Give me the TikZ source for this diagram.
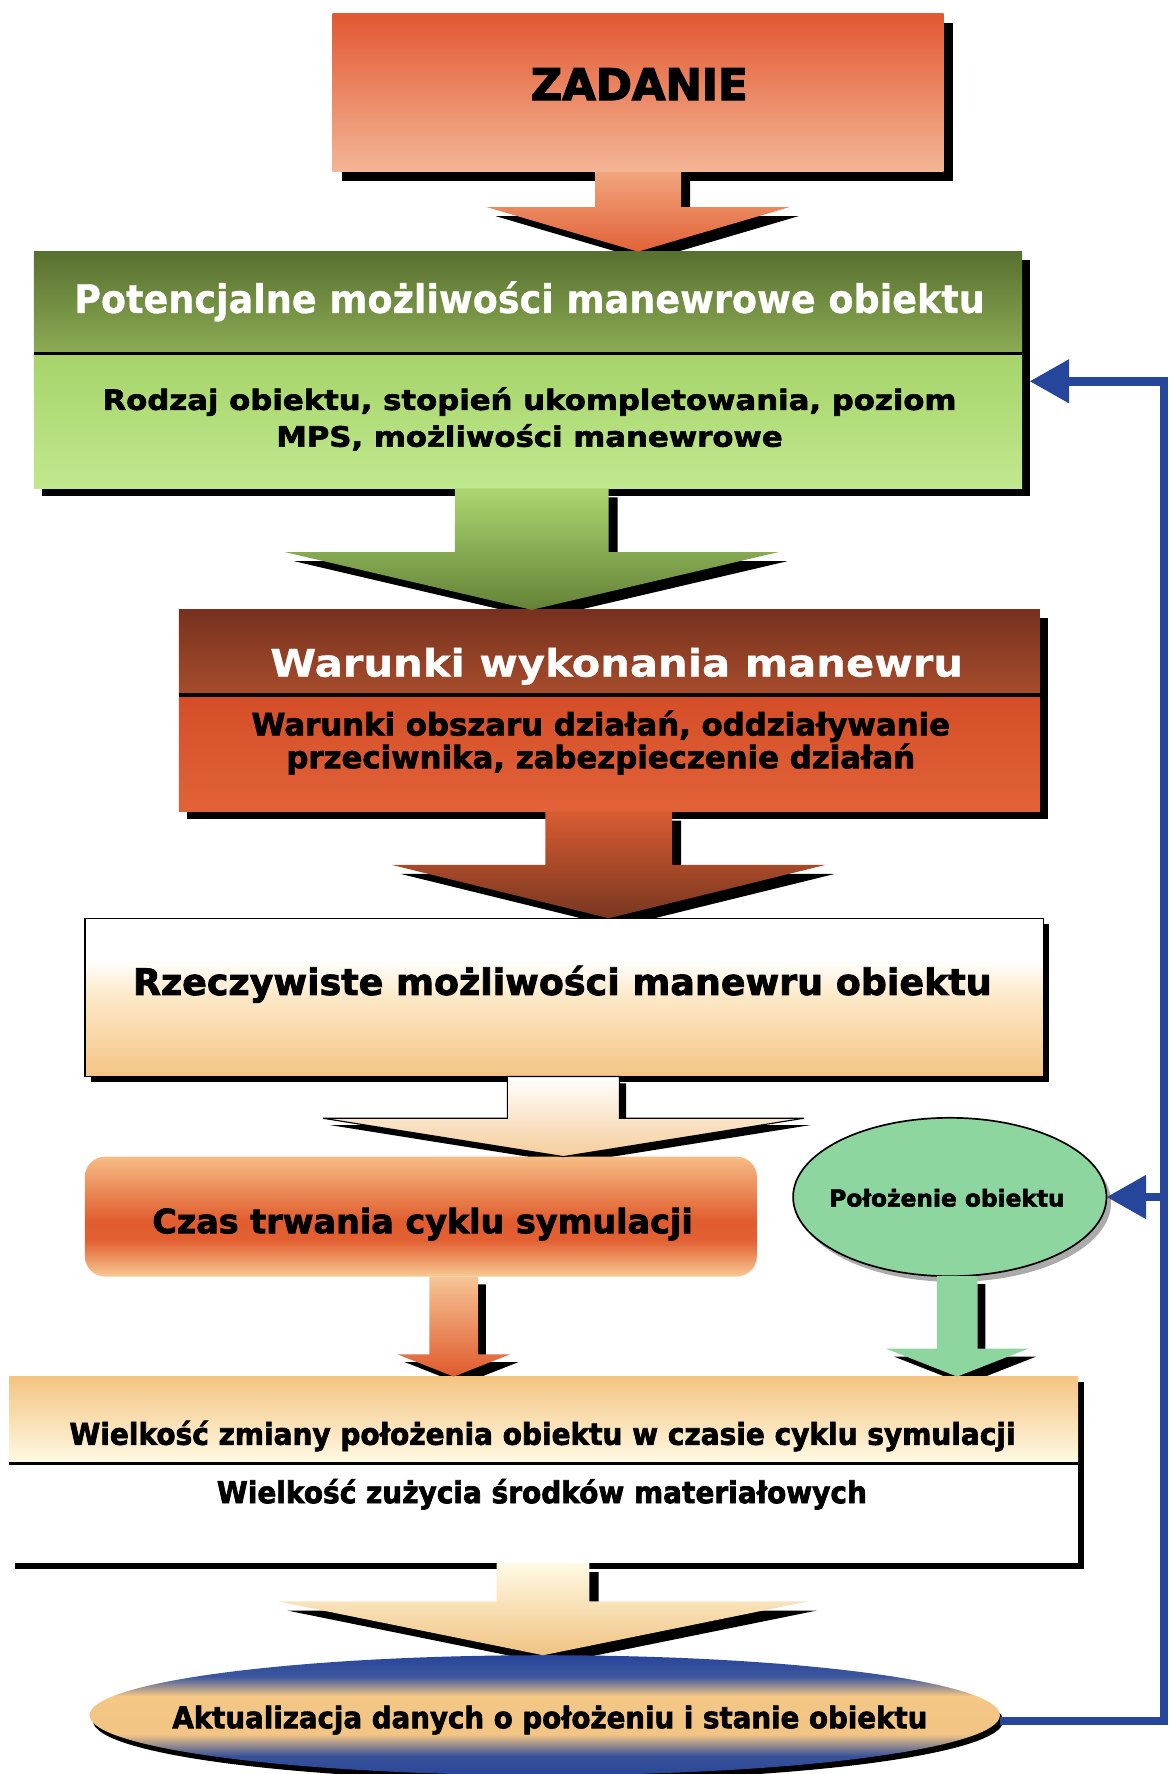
\documentclass[tikz,border=0pt]{standalone}
\usepackage{fontspec}
\usetikzlibrary{shapes.geometric,shadows,arrows.meta}

% heavy sans faces, normal / wide / narrow
\newfontfamily\fontZ[FakeBold=3]{DejaVu Sans Bold}
\newfontfamily\fontN[FakeBold=2.2]{DejaVu Sans Bold}
\newfontfamily\fontW[FakeStretch=1.1,FakeBold=2.2]{DejaVu Sans Bold}
\newfontfamily\fontC[FakeStretch=0.93,FakeBold=2.2]{DejaVu Sans Bold}
\newfontfamily\fontWl[FakeStretch=1.1,FakeBold=0.8]{DejaVu Sans Bold}
\newfontfamily\fontCl[FakeStretch=0.93,FakeBold=0.8]{DejaVu Sans Bold}
\newcommand\setfnt[2]{#1\fontsize{#2pt}{#2pt}\selectfont}

% colours
\definecolor{zadTop}{RGB}{226,88,50}
\definecolor{zadBot}{RGB}{244,182,150}
\definecolor{aOneTop}{RGB}{241,165,125}
\definecolor{aOneBot}{RGB}{226,98,56}
\definecolor{potHdrTop}{RGB}{88,112,48}
\definecolor{potHdrBot}{RGB}{140,172,84}
\definecolor{potBodyTop}{RGB}{166,212,106}
\definecolor{potBodyBot}{RGB}{192,232,142}
\definecolor{aTwoTop}{RGB}{172,214,112}
\definecolor{aTwoBot}{RGB}{100,130,55}
\definecolor{warHdrTop}{RGB}{118,50,30}
\definecolor{warHdrBot}{RGB}{168,76,44}
\definecolor{warBodyTop}{RGB}{212,78,40}
\definecolor{warBodyBot}{RGB}{226,98,56}
\definecolor{aThreeTop}{RGB}{216,92,50}
\definecolor{aThreeBot}{RGB}{120,55,32}
\definecolor{aFourBot}{RGB}{245,205,155}
\definecolor{aFiveTop}{RGB}{246,196,150}
\definecolor{aFiveBot}{RGB}{224,90,44}
\definecolor{polGreen}{RGB}{142,214,160}
\definecolor{wieTop}{RGB}{244,196,130}
\definecolor{wieBot}{RGB}{255,250,228}
\definecolor{aSevenTop}{RGB}{255,250,228}
\definecolor{aSevenBot}{RGB}{240,195,130}
\definecolor{fbBlue}{RGB}{38,70,155}

% shadings (box mapped to 25bp..75bp)
\pgfdeclareverticalshading{rzeshade}{100bp}{rgb(0bp)=(0.96,0.77,0.52); rgb(25bp)=(0.96,0.77,0.52); rgb(50bp)=(0.99,0.91,0.78); rgb(62bp)=(1,1,1); rgb(100bp)=(1,1,1)}
\pgfdeclareverticalshading{czasshade}{100bp}{rgb(0bp)=(0.97,0.79,0.58); rgb(25bp)=(0.97,0.79,0.58); rgb(40bp)=(0.89,0.38,0.20); rgb(48bp)=(0.88,0.36,0.18); rgb(75bp)=(0.97,0.74,0.52); rgb(100bp)=(0.97,0.74,0.52)}
\pgfdeclareverticalshading{aktshade}{100bp}{rgb(0bp)=(0.16,0.27,0.60); rgb(25bp)=(0.16,0.27,0.60); rgb(33bp)=(0.22,0.32,0.60); rgb(42bp)=(0.95,0.77,0.52); rgb(58bp)=(0.96,0.78,0.52); rgb(66bp)=(0.24,0.34,0.62); rgb(75bp)=(0.16,0.27,0.60); rgb(100bp)=(0.16,0.27,0.60)}

\pgfdeclarelayer{back}
\pgfdeclarelayer{front}
\pgfsetlayers{back,main,front}

% block arrow: source, target, centre x, stem half width, head half width, head top y
\newcommand\arrowgeom[6]{(#3-#4,0 |- #1.south) -- (#3+#4,0 |- #1.south) -- (#3+#4,-#6) -- (#3+#5,-#6) -- (#3,0 |- #2.north) -- (#3-#5,-#6) -- (#3-#4,-#6) -- cycle}

\tikzset{
  box/.style={rectangle, inner sep=0pt, outer sep=0pt, draw=none},
  hard shadow/.style={drop shadow={shadow xshift=#1, shadow yshift=-#1, fill=black, opacity=1}},
  divider/.style={line width=3pt, black},
  lbl/.style={anchor=base, inner sep=0pt, outer sep=0pt},
  arrowshadow/.style={fill=black, transform canvas={shift={(#1,-#1)}}},
  feedback/.style={draw=fbBlue, line width=7.5pt, line join=miter, -{Triangle[length=35pt,width=37pt]}},
}

\begin{document}
\begin{tikzpicture}[x=1pt,y=1pt]
\useasboundingbox (0,0) rectangle (1034,-1568);
\begin{pgfonlayer}{back}
  \fill[white] (0,0) rectangle (1034,-1568);
\end{pgfonlayer}

% ---- boxes ----
\node[box, hard shadow=8pt, top color=zadTop, bottom color=zadBot, minimum width=540pt, minimum height=140pt] (zad) at (564,-82) {};

\node[box, hard shadow=7pt, top color=potHdrTop, bottom color=potHdrBot, minimum width=873.5pt, minimum height=89.9pt] (pothdr) at (466.75,-267.35) {};
\node[box, hard shadow=7pt, top color=potBodyTop, bottom color=potBodyBot, minimum width=873.5pt, minimum height=119.3pt] (potbody) at (466.75,-371.95) {};
\draw[divider] (pothdr.south west) -- (pothdr.south east);

\node[box, hard shadow=7pt, top color=warHdrTop, bottom color=warHdrBot, minimum width=761pt, minimum height=75.2pt] (warhdr) at (538.5,-576.6) {};
\node[box, hard shadow=7pt, top color=warBodyTop, bottom color=warBodyBot, minimum width=761pt, minimum height=103.1pt] (warbody) at (538.5,-665.75) {};
\draw[divider] (warhdr.south west) -- (warhdr.south east);

\node[box, hard shadow=5pt, draw=black, line width=1.3pt, shade, shading=rzeshade, minimum width=847.4pt, minimum height=139.9pt] (rze) at (498.7,-881.55) {};

\node[box, rounded corners=18pt, shade, shading=czasshade, minimum width=594pt, minimum height=106pt] (czas) at (372,-1075.3) {};

\node[ellipse, inner sep=0pt, outer sep=0pt, draw=black, line width=1.5pt, fill=polGreen,
      drop shadow={shadow xshift=4pt, shadow yshift=-5pt, fill=black!60, opacity=0.55},
      minimum width=277pt, minimum height=140pt] (pol) at (839.5,-1058) {};

\node[box, hard shadow=5pt, top color=wieTop, bottom color=wieBot, minimum width=945pt, minimum height=76.6pt] (wiehdr) at (480.5,-1255) {};
\node[box, hard shadow=5pt, fill=white, minimum width=945pt, minimum height=88.3pt] (wiebody) at (480.5,-1337.45) {};
\draw[divider] (wiehdr.south west) -- (wiehdr.south east);

\node[ellipse, inner sep=0pt, outer sep=0pt, shade, shading=aktshade,
      drop shadow={shadow xshift=3pt, shadow yshift=-5pt, fill=black, opacity=1},
      minimum width=804.6pt, minimum height=106pt] (akt) at (481.5,-1516) {};

% ---- block arrows: shadows ----
\begin{pgfonlayer}{back}
  \fill[arrowshadow=8pt] \arrowgeom{zad}{pothdr}{564}{38}{134}{183};
  \fill[arrowshadow=8pt] \arrowgeom{potbody}{warhdr}{470}{68}{218}{488};
  \fill[arrowshadow=8pt] \arrowgeom{warbody}{rze}{538}{56}{191.5}{764.5};
  \fill[arrowshadow=6pt] \arrowgeom{rze}{czas}{498}{49.5}{212.5}{988.4};
  \fill[arrowshadow=7pt] \arrowgeom{czas}{wiehdr}{401}{21.5}{50}{1197};
  \fill[arrowshadow=7pt] \arrowgeom{pol}{wiehdr}{846}{18}{63}{1192};
  \fill[arrowshadow=8pt] \arrowgeom{wiebody}{akt}{480}{41}{234}{1415.5};
\end{pgfonlayer}

% ---- block arrows ----
\begin{pgfonlayer}{front}
  \path[top color=aOneTop, bottom color=aOneBot] \arrowgeom{zad}{pothdr}{564}{38}{134}{183};
  \path[top color=aTwoTop, bottom color=aTwoBot] \arrowgeom{potbody}{warhdr}{470}{68}{218}{488};
  \path[top color=aThreeTop, bottom color=aThreeBot] \arrowgeom{warbody}{rze}{538}{56}{191.5}{764.5};
  \path[draw=black, line width=1pt, top color=white, bottom color=aFourBot] \arrowgeom{rze}{czas}{498}{49.5}{212.5}{988.4};
  \path[top color=aFiveTop, bottom color=aFiveBot] \arrowgeom{czas}{wiehdr}{401}{21.5}{50}{1197};
  \path[fill=polGreen] \arrowgeom{pol}{wiehdr}{846}{18}{63}{1192};
  \path[top color=aSevenTop, bottom color=aSevenBot] \arrowgeom{wiebody}{akt}{480}{41}{234}{1415.5};

  % feedback connector
  \coordinate (fbtop) at (1029,-337);
  \coordinate (fbbot) at (1029,-1521);
  \draw[feedback, shorten >=6.5pt] (akt.east |- fbbot) -- (fbbot) -- (fbtop) -- (fbtop -| potbody.east);
  \draw[feedback] (fbtop |- pol.east) -- (pol.east);
\end{pgfonlayer}

% ---- labels ----
\node[lbl, font=\setfnt\fontZ{38.4}] (t1) at (565,-88.4) {ZADANIE};
\node[lbl, text=white, font=\setfnt\fontCl{34.75}] (t2) at (468,-276.6) {Potencjalne możliwości manewrowe obiektu};
\node[lbl, font=\setfnt\fontW{24.7}] (t3a) at (468,-362.3) {Rodzaj obiektu, stopień ukompletowania, poziom};
\node[lbl, font=\setfnt\fontW{24.7}] (t3b) at (468,-394.8) {MPS, możliwości manewrowe};
\node[lbl, text=white, font=\setfnt\fontWl{33.5}] (t4) at (545,-598) {Warunki wykonania manewru};
\node[lbl, font=\setfnt\fontN{27.2}] (t5a) at (531,-650) {Warunki obszaru działań, oddziaływanie};
\node[lbl, font=\setfnt\fontN{27.2}] (t5b) at (531,-679) {przeciwnika, zabezpieczenie działań};
\node[lbl, font=\setfnt\fontN{32.2}] (t6) at (497,-879.4) {Rzeczywiste możliwości manewru obiektu};
\node[lbl, font=\setfnt\fontN{29.5}] (t7) at (373.5,-1090) {Czas trwania cyklu symulacji};
\node[lbl, font=\setfnt\fontN{20.6}] (t8) at (837,-1066.4) {Położenie obiektu};
\node[lbl, font=\setfnt\fontC{26.6}] (t9) at (479.5,-1277) {Wielkość zmiany położenia obiektu w czasie cyklu symulacji};
\node[lbl, font=\setfnt\fontC{26.6}] (t10) at (479,-1328.6) {Wielkość zużycia środków materiałowych};
\node[lbl, font=\setfnt\fontC{26.3}] (t11) at (486,-1527.5) {Aktualizacja danych o położeniu i stanie obiektu};

\end{tikzpicture}
\end{document}
